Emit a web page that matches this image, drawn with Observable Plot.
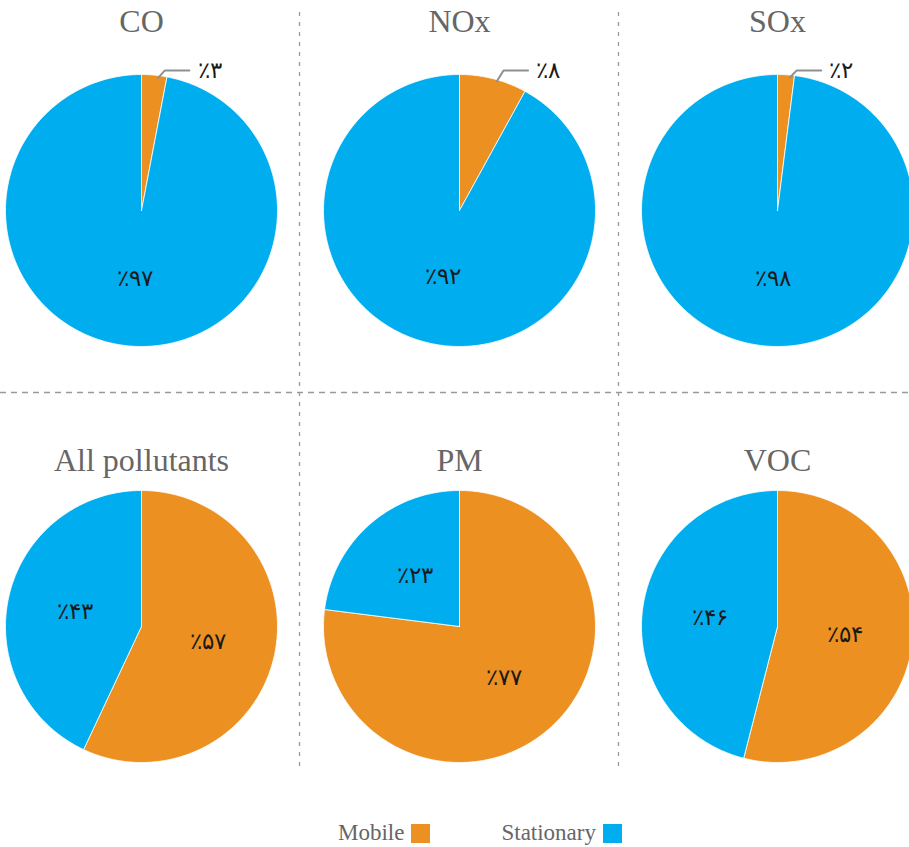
<!DOCTYPE html>
<html>
<head>
<meta charset="utf-8">
<script src="https://cdn.jsdelivr.net/npm/d3@7"></script>
<script src="https://cdn.jsdelivr.net/npm/@observablehq/plot@0.6"></script>
<style>
  html, body { margin: 0; padding: 0; background: #fff; }
  body { width: 909px; height: 847px; overflow: hidden; position: relative; }
  .panel { position: absolute; width: 318px; }
  .panel svg { overflow: visible; max-width: none; }
  #legend { position: absolute; top: 822px; left: 338px; display: flex; align-items: center; color: #666; }
  #legend span.t { font-family: "Liberation Serif", "DejaVu Serif", serif; font-size: 23px; line-height: 22px; }
  .item { display: flex; align-items: center; }
  .sw { width: 19px; height: 19px; margin-left: 7px; display: inline-block; }
  #grid { position: absolute; left: 0; top: 0; }
</style>
</head>
<body>
<script>
// ---- data ----
const pollutants = ["CO", "NOx", "SOx", "All pollutants", "PM", "VOC"];
const categories = ["Mobile", "Stationary"];
const mobile = [3, 8, 2, 57, 77, 54];
const stationary = [97, 92, 98, 43, 23, 46];
const colors = ["#EC9022", "#00AEEF"];

const persianDigits = "۰۱۲۳۴۵۶۷۸۹";
const fmt = v => "٪" + String(v).replace(/\d/g, d => persianDigits[+d]);

// ---- layout ----
const R = 136;
const panelW = 318;
const rows = [
  {top: 0, height: 390, cy: 210, titleY: 21},
  {top: 392, height: 400, cy: 234, titleY: 68}
];

function makePie(idx) {
  const name = pollutants[idx];
  const vals = [mobile[idx], stationary[idx]];
  const arcs = d3.pie().sort(null).startAngle(0).endAngle(2 * Math.PI)(vals);
  const slices = [];
  const labelsIn = [];
  const labelsOut = [];
  const leader = [];
  arcs.forEach((a, i) => {
    const cat = categories[i];
    slices.push({cat, k: i, x: 0, y: 0});
    const n = Math.max(2, Math.ceil((a.endAngle - a.startAngle) / (Math.PI / 180)));
    for (let j = 0; j <= n; j++) {
      const t = a.startAngle + (a.endAngle - a.startAngle) * j / n;
      slices.push({cat, k: i, x: Math.sin(t), y: Math.cos(t)});
    }
    slices.push({cat, k: i, x: 0, y: 0});
    const mid = (a.startAngle + a.endAngle) / 2;
    if (a.data >= 10) {
      labelsIn.push({x: 0.5 * Math.sin(mid), y: 0.5 * Math.cos(mid), text: fmt(a.data)});
    } else {
      const sx = 0.98 * Math.sin(mid) + 0.03, sy = 0.98 * Math.cos(mid);
      const ex = sx + 0.05, ey = 1.03;
      const fx = ex + 0.18;
      leader.push({x: sx, y: sy}, {x: ex, y: ey}, {x: fx, y: ey});
      labelsOut.push({x: fx + 0.06, y: ey, text: fmt(a.data)});
    }
  });
  const row = rows[Math.floor(idx / 3)];
  const col = idx % 3;
  const labelFont = {fontSize: 23, fill: "#1a1a1a", fontFamily: "DejaVu Sans, sans-serif",
    fontWeight: 300, letterSpacing: "2px"};
  const chart = Plot.plot({
    width: panelW,
    height: row.height,
    marginLeft: panelW / 2 - R,
    marginRight: panelW / 2 - R,
    marginTop: row.cy - R,
    marginBottom: row.height - row.cy - R,
    x: {domain: [-1, 1], axis: null},
    y: {domain: [-1, 1], axis: null},
    color: {domain: categories, range: colors},
    style: {background: "transparent", overflow: "visible"},
    marks: [
      Plot.line(slices, {x: "x", y: "y", z: "k", fill: "cat", stroke: "white", strokeWidth: 0.8, curve: "linear"}),
      Plot.line(leader, {x: "x", y: "y", stroke: "#8f8f8f", strokeWidth: 2}),
      Plot.text(labelsIn, {x: "x", y: "y", text: "text", ...labelFont}),
      Plot.text(labelsOut, {x: "x", y: "y", text: "text", textAnchor: "start", ...labelFont}),
      Plot.text([name], {frameAnchor: "top", lineAnchor: "middle", text: d => d, fontSize: 32, fill: "#666",
        dy: row.titleY - (row.cy - R), fontFamily: "Liberation Serif, Times New Roman, serif"})
    ]
  });
  const div = document.createElement("div");
  div.className = "panel";
  div.style.left = (-18 + panelW * col) + "px";
  div.style.top = row.top + "px";
  div.appendChild(chart);
  document.body.appendChild(div);
}

pollutants.forEach((_, i) => makePie(i));

// ---- grid separators ----
const svg = d3.select("body").append("svg").attr("id", "grid").attr("width", 909).attr("height", 847)
  .style("pointer-events", "none");
[299.5, 618.5].forEach(x => svg.append("line").attr("x1", x).attr("x2", x).attr("y1", 12).attr("y2", 772)
  .attr("stroke", "#999").attr("stroke-width", 1.3).attr("stroke-dasharray", "4,6"));
svg.append("line").attr("x1", 0).attr("x2", 909).attr("y1", 392.5).attr("y2", 392.5)
  .attr("stroke", "#999").attr("stroke-width", 1.3).attr("stroke-dasharray", "6,5");

// ---- legend ----
const legend = document.createElement("div");
legend.id = "legend";
categories.forEach((c, i) => {
  const it = document.createElement("div");
  it.className = "item";
  if (i > 0) it.style.marginLeft = "71px";
  const t = document.createElement("span");
  t.className = "t";
  t.textContent = c;
  const s = document.createElement("span");
  s.className = "sw";
  s.style.background = colors[i];
  it.appendChild(t); it.appendChild(s);
  legend.appendChild(it);
});
document.body.appendChild(legend);
</script>
</body>
</html>
